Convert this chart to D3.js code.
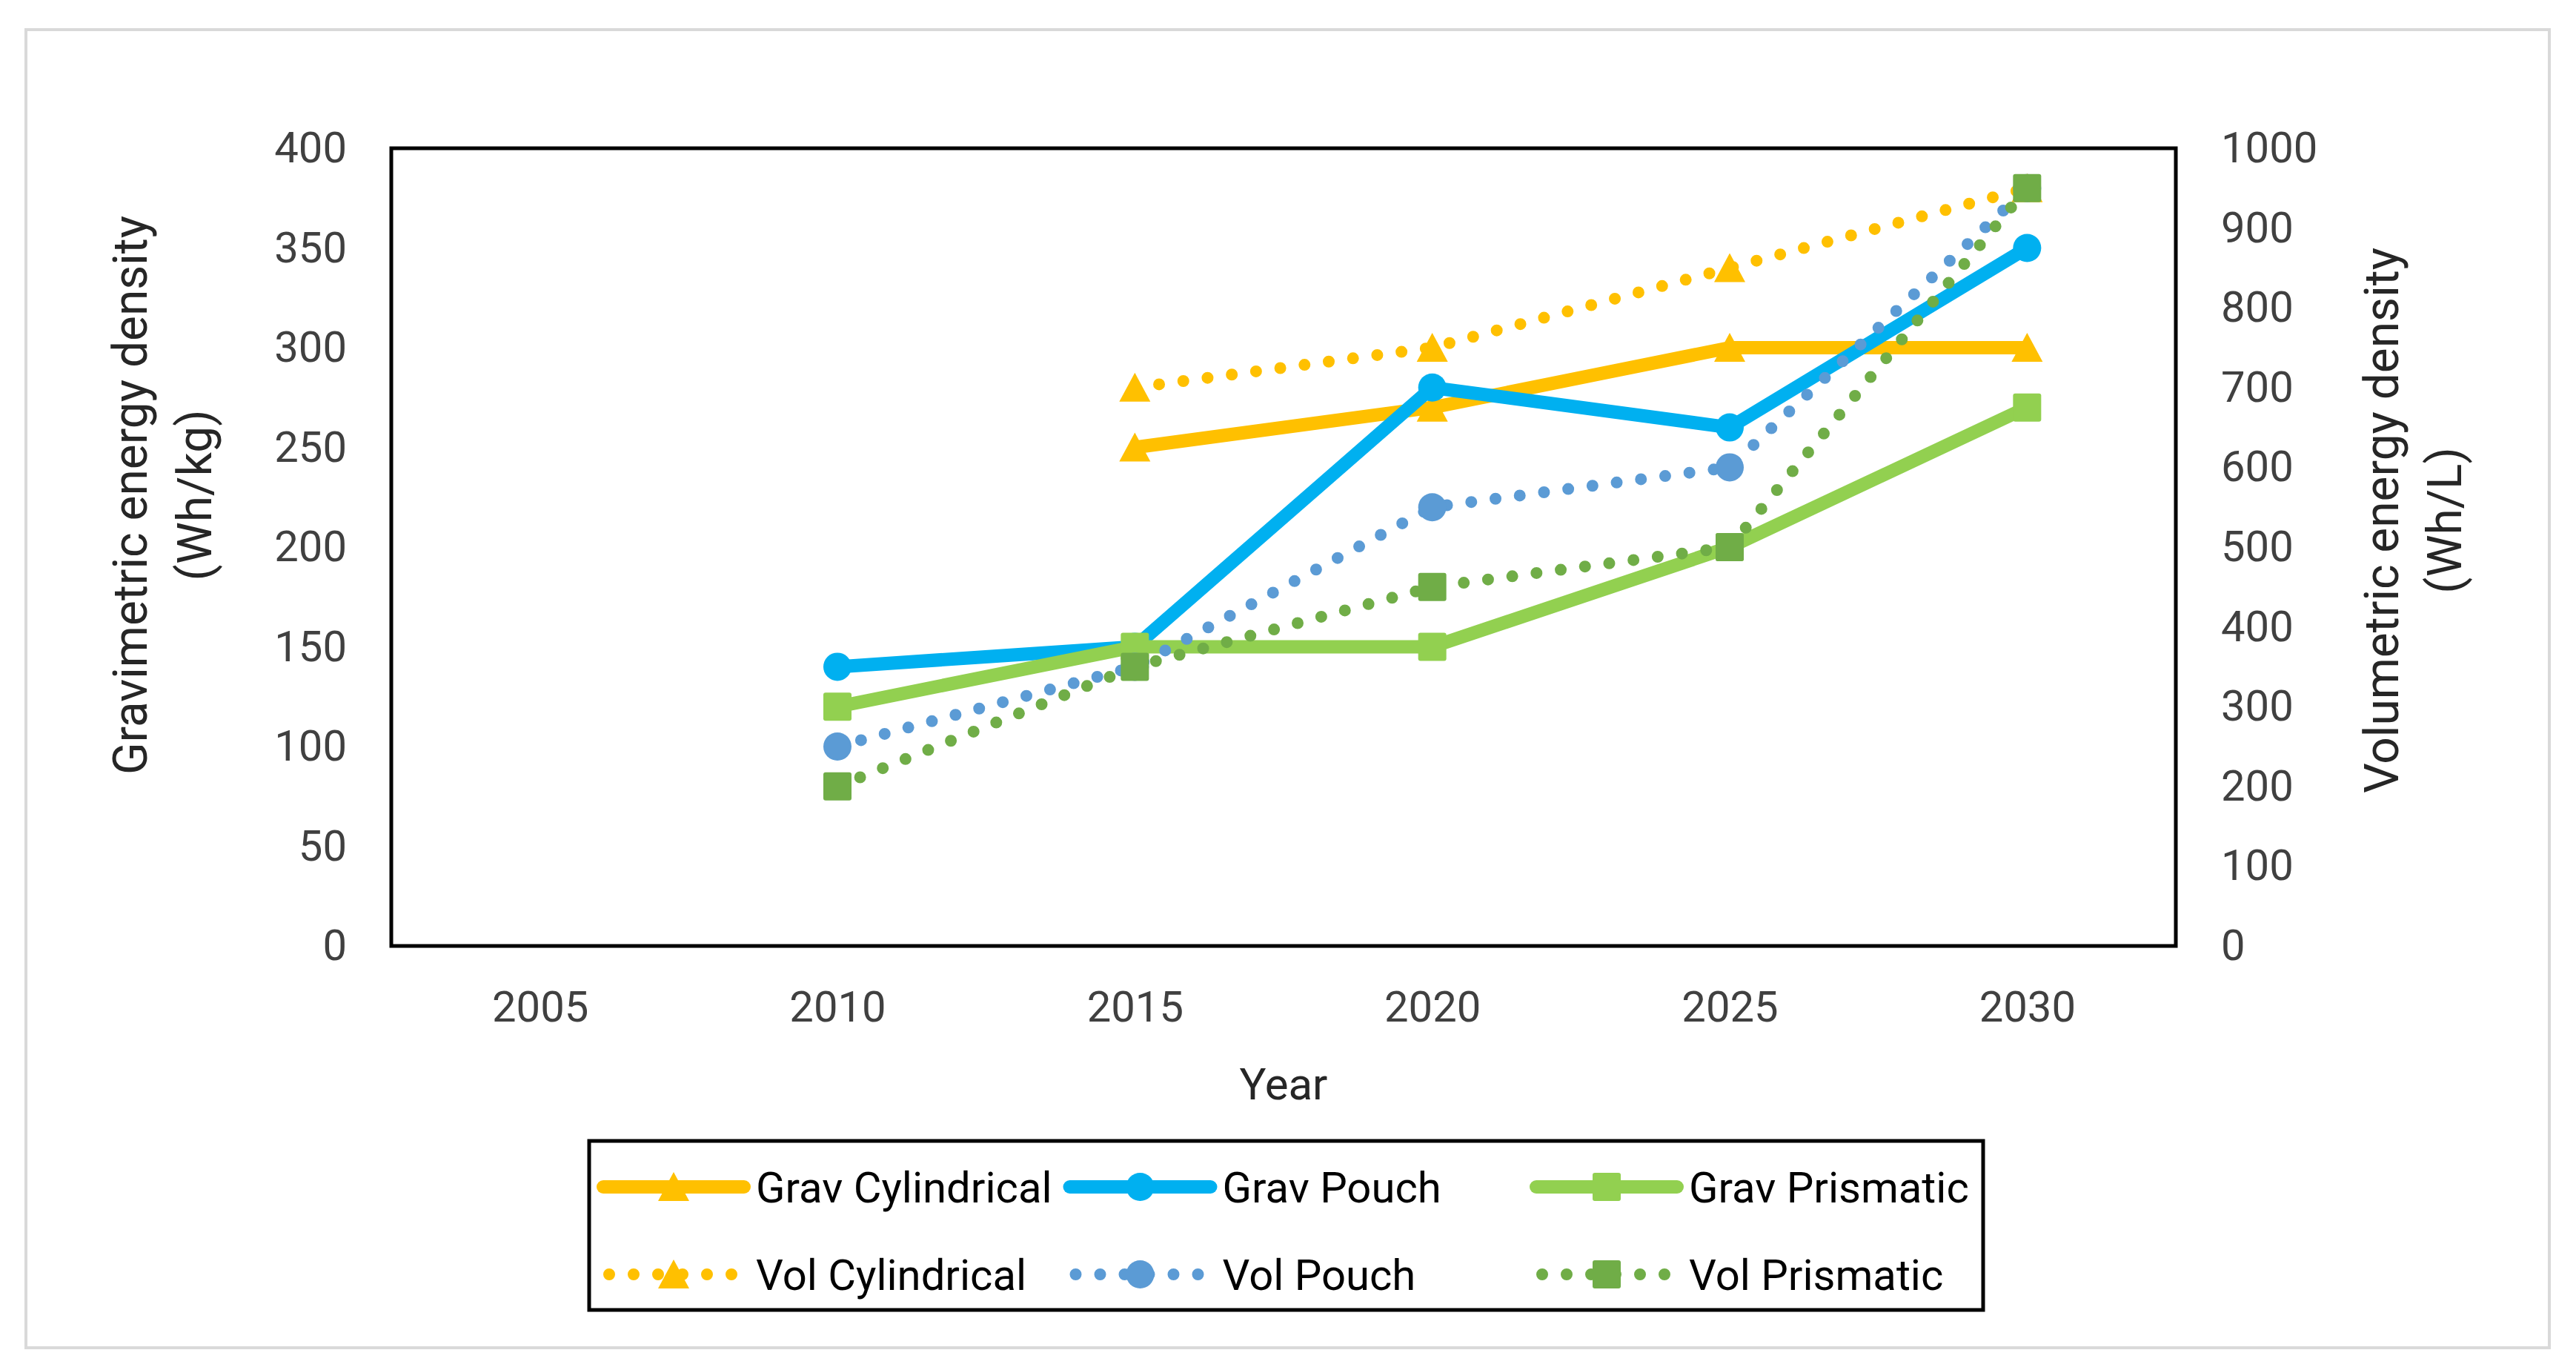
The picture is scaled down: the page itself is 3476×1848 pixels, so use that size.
<!DOCTYPE html>
<html>
<head>
<meta charset="utf-8">
<script src="https://cdn.jsdelivr.net/npm/d3@7"></script>
<style>
  body { margin: 0; background: #fff; }
  text { font-family: Roboto, "Open Sans", sans-serif; }
</style>
</head>
<body>
<script>
// data
var years = ["2005", "2010", "2015", "2020", "2025", "2030"];
var gravCylindrical = [null, null, 250, 270, 300, 300];
var gravPouch = [null, 140, 150, 280, 260, 350];
var gravPrismatic = [null, 120, 150, 150, 200, 270];
var volCylindrical = [null, null, 700, 750, 850, 950];
var volPouch = [null, 250, 350, 550, 600, 950];
var volPrismatic = [null, 200, 350, 450, 500, 950];
var leftTicks = [0, 50, 100, 150, 200, 250, 300, 350, 400];
var rightTicks = [0, 100, 200, 300, 400, 500, 600, 700, 800, 900, 1000];
var seriesNames = ["Grav Cylindrical", "Grav Pouch", "Grav Prismatic", "Vol Cylindrical", "Vol Pouch", "Vol Prismatic"];

// series styling (order = draw order, grav first then vol on top)
var series = [
  {name: seriesNames[0], values: gravCylindrical, axis: "left", color: "#FFC000", dotted: false, marker: "triangle"},
  {name: seriesNames[1], values: gravPouch, axis: "left", color: "#00B0F0", dotted: false, marker: "circle"},
  {name: seriesNames[2], values: gravPrismatic, axis: "left", color: "#92D050", dotted: false, marker: "square"},
  {name: seriesNames[3], values: volCylindrical, axis: "right", color: "#FFC000", dotted: true, marker: "triangle"},
  {name: seriesNames[4], values: volPouch, axis: "right", color: "#5B9BD5", dotted: true, marker: "circle"},
  {name: seriesNames[5], values: volPrismatic, axis: "right", color: "#70AD47", dotted: true, marker: "square"}
];

var W = 3476, H = 1848;
var plot = {left: 528, right: 2936, top: 200, bottom: 1276};

var svg = d3.select("body").append("svg")
  .attr("width", W)
  .attr("height", H);

// outer chart frame
svg.append("rect")
  .attr("x", 35).attr("y", 40)
  .attr("width", 3405).attr("height", 1778)
  .attr("fill", "#fff")
  .attr("stroke", "#d9d9d9")
  .attr("stroke-width", 4);

var x = d3.scalePoint().domain(years).range([plot.left, plot.right]).padding(0.5);
var yL = d3.scaleLinear().domain([0, 400]).range([plot.bottom, plot.top]);
var yR = d3.scaleLinear().domain([0, 1000]).range([plot.bottom, plot.top]);

// axes (labels only, frame drawn below)
var axL = svg.append("g")
  .attr("transform", "translate(" + plot.left + ",0)")
  .call(d3.axisLeft(yL).tickValues(leftTicks).tickFormat(d3.format("d")).tickSize(0).tickPadding(60));
var axR = svg.append("g")
  .attr("transform", "translate(" + plot.right + ",0)")
  .call(d3.axisRight(yR).tickValues(rightTicks).tickFormat(d3.format("d")).tickSize(0).tickPadding(61));
var axB = svg.append("g")
  .attr("transform", "translate(0," + plot.bottom + ")")
  .call(d3.axisBottom(x).tickSize(0).tickPadding(61));

[axL, axR, axB].forEach(function(a) {
  a.select(".domain").remove();
  a.selectAll("text")
    .style("font-family", "Roboto, 'Open Sans', sans-serif")
    .style("font-size", "58px")
    .attr("fill", "#404040");
});

// plot frame
svg.append("rect")
  .attr("x", plot.left).attr("y", plot.top)
  .attr("width", plot.right - plot.left).attr("height", plot.bottom - plot.top)
  .attr("fill", "none")
  .attr("stroke", "#000")
  .attr("stroke-width", 5);

// axis titles
svg.append("text")
  .attr("x", 1732).attr("y", 1483)
  .attr("text-anchor", "middle")
  .style("font-size", "60px")
  .attr("fill", "#262626")
  .text("Year");

function yTitle(cx, cy, lines, gap) {
  var t = svg.append("text")
    .attr("transform", "translate(" + cx + "," + cy + ") rotate(-90)")
    .attr("text-anchor", "middle")
    .style("font-size", "64px")
    .attr("fill", "#262626");
  lines.forEach(function(l, i) {
    t.append("tspan").attr("x", 0).attr("y", i * gap).text(l);
  });
}
yTitle(198, 668, ["Gravimetric energy density", "(Wh/kg)"], 87);
yTitle(3236, 702, ["Volumetric energy density", "(Wh/L)"], 85);

// markers
function drawMarker(g, type, color, cx, cy) {
  if (type === "triangle") {
    g.append("path")
      .attr("d", "M" + cx + "," + (cy - 20) + "L" + (cx + 21) + "," + (cy + 19) + "L" + (cx - 21) + "," + (cy + 19) + "Z")
      .attr("fill", color);
  } else if (type === "circle") {
    g.append("circle").attr("cx", cx).attr("cy", cy).attr("r", 19).attr("fill", color);
  } else {
    g.append("rect").attr("x", cx - 19).attr("y", cy - 19)
      .attr("width", 38).attr("height", 38).attr("rx", 3)
      .attr("fill", color);
  }
}

function styleLine(p, s) {
  p.attr("fill", "none")
    .attr("stroke", s.color)
    .attr("stroke-width", s.dotted ? 16 : 18)
    .attr("stroke-linecap", "round")
    .attr("stroke-linejoin", "round");
  if (s.dotted) p.attr("stroke-dasharray", "0 33");
  return p;
}

// lines + markers
series.forEach(function(s) {
  var y = s.axis === "left" ? yL : yR;
  var pts = years.map(function(yr, i) { return {year: yr, v: s.values[i]}; });
  var line = d3.line()
    .defined(function(d) { return d.v != null; })
    .x(function(d) { return x(d.year); })
    .y(function(d) { return y(d.v); });
  var g = svg.append("g").attr("class", "series");
  styleLine(g.append("path").attr("d", line(pts)), s);
  pts.filter(function(d) { return d.v != null; }).forEach(function(d) {
    drawMarker(g, s.marker, s.color, x(d.year), y(d.v));
  });
});

// legend
svg.append("rect")
  .attr("x", 795).attr("y", 1539)
  .attr("width", 1881).attr("height", 228)
  .attr("fill", "#fff")
  .attr("stroke", "#000")
  .attr("stroke-width", 5);

var legendRows = [1601, 1719];
series.forEach(function(s, i) {
  var col = i % 3, row = Math.floor(i / 3);
  var x0 = 814 + col * 629.5, ly = legendRows[row];
  var g = svg.append("g");
  styleLine(g.append("line")
    .attr("x1", x0 + (s.dotted ? 8 : 0)).attr("x2", x0 + 190)
    .attr("y1", ly).attr("y2", ly), s);
  drawMarker(g, s.marker, s.color, x0 + 95, ly);
  g.append("text")
    .attr("x", x0 + 206).attr("y", ly)
    .attr("dy", "0.36em")
    .style("font-size", "58px")
    .attr("fill", "#000")
    .text(s.name);
});
</script>
</body>
</html>
